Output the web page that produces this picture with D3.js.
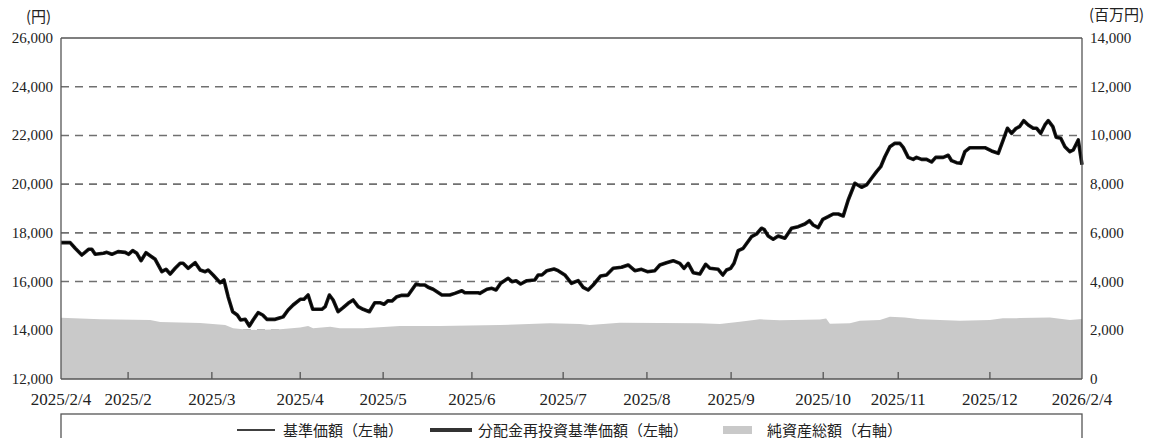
<!DOCTYPE html>
<html><head><meta charset="utf-8">
<script src="https://cdn.jsdelivr.net/npm/d3@7/dist/d3.min.js"></script>
<style>
html,body{margin:0;padding:0;background:#fff;}
svg{display:block;}
.num{font-family:"Liberation Serif","Noto Sans CJK JP",serif;fill:#222;}
.jp{font-family:"Noto Sans CJK JP","Liberation Serif",sans-serif;fill:#222;}
</style></head>
<body>
<svg id="chart" width="1150" height="438"></svg>
<script>
// trading-day index (0 = 2025/2/4, 245 = 2026/2/4)
const navDay = [0,2.2,3.4,5.0,6.6,7.4,8.2,10.2,11.0,12.2,13.7,15.4,16.2,17.2,18.2,19.2,20.4,21.4,22.6,24.2,25.2,26.2,27.4,28.6,29.3,30.5,32.2,33.4,34.6,35.3,36.5,38.2,39.1,40.1,41.2,42.3,43.1,44.2,45.2,46.1,47.3,48.4,49.4,51.4,52.6,53.3,54.5,55.7,57.4,58.3,59.3,60.4,62.6,63.4,64.4,65.3,66.5,67.7,68.9,70.1,71.3,72.5,74.0,75.3,76.5,77.5,78.5,79.4,80.6,81.8,83.3,85.2,86.1,87.3,88.1,89.3,91.4,93.3,94.5,96.2,96.9,100.1,100.5,102.2,103.4,104.4,105.5,107.3,108.2,109.2,110.3,111.8,113.7,114.5,115.4,116.6,118.3,119.3,120.9,122.5,124.1,125.3,126.5,127.7,129.5,130.9,132.5,134.5,136.1,137.7,139.3,140.7,142.5,143.7,145.3,146.9,148.5,149.5,150.5,151.7,153.3,154.7,155.7,157.7,158.8,159.7,160.7,161.5,162.5,163.7,165.7,166.9,168.1,168.7,169.7,170.9,172.1,173.7,175.3,176.9,178.5,179.6,180.5,181.7,182.8,184.1,185.3,186.5,187.7,188.9,190.5,192.1,193.3,194.5,195.7,196.7,197.7,198.9,200.1,201.3,202.1,203.3,204.5,205.3,206.5,207.7,208.9,209.9,211.7,212.9,213.7,214.9,215.9,216.9,218.1,221.7,223.3,224.9,226.1,227.1,228.1,229.2,230.0,231.0,232.1,233.3,234.1,235.1,236.1,236.9,238.0,238.8,239.9,240.9,242.1,242.9,244.1,245];
const navValue = [17597,17597,17366,17091,17325,17325,17120,17161,17200,17120,17228,17200,17120,17270,17160,16857,17186,17063,16915,16406,16504,16311,16545,16750,16750,16545,16775,16476,16406,16476,16270,15954,16065,15380,14763,14628,14422,14450,14176,14422,14722,14628,14450,14450,14517,14550,14833,15038,15272,15272,15449,14862,14862,14970,15449,15244,14763,14928,15108,15244,14970,14862,14763,15133,15133,15067,15215,15200,15380,15435,15435,15900,15860,15860,15765,15683,15449,15449,15517,15625,15543,15543,15517,15683,15724,15654,15929,16135,15997,16036,15900,16036,16065,16270,16270,16447,16516,16447,16270,15929,16036,15765,15654,15860,16230,16270,16545,16586,16681,16447,16504,16406,16447,16681,16775,16857,16750,16545,16750,16365,16311,16709,16545,16504,16270,16476,16545,16750,17268,17366,17843,17954,18188,18146,17872,17736,17872,17777,18188,18254,18365,18500,18323,18212,18557,18664,18775,18775,18693,19350,20036,19871,19966,20241,20511,20716,21127,21538,21675,21675,21510,21101,21018,21101,21018,21018,20910,21101,21101,21185,20963,20881,20854,21333,21497,21497,21362,21267,21813,22294,22088,22294,22360,22606,22430,22294,22294,22088,22430,22606,22360,21924,21883,21538,21333,21402,21813,20800];
// 分配金再投資基準価額 (no distributions: same as 基準価額)
const reinvestValue = navValue.slice();

const aumDay = [0,9.4,21.4,23.8,33.4,39.4,41.3,45.4,52.6,57.4,59.3,60.5,64.6,66.9,72.5,81.3,90.9,105.3,117.3,124.5,126.9,134.1,143.7,153.3,158.1,162.9,167.7,172.5,182.1,183.6,184.5,189.3,191.7,196.5,198.9,202.5,206.1,215.7,222.9,226.0,230.1,237.3,242.1,245];
const aumValue = [2510,2455,2420,2340,2300,2217,2082,2012,2040,2110,2176,2082,2147,2082,2082,2176,2176,2217,2287,2260,2217,2312,2300,2287,2260,2353,2451,2410,2440,2480,2270,2287,2394,2422,2558,2530,2451,2394,2422,2492,2500,2530,2422,2463];

const leftTicks = [12000,14000,16000,18000,20000,22000,24000,26000];
const rightTicks = [0,2000,4000,6000,8000,10000,12000,14000];
const xTickDay = [0,16.1,36.2,57.4,77.3,98.6,120.5,140.6,160.8,182.9,200.9,222.9,245];
const xTickLabel = ["2025/2/4","2025/2","2025/3","2025/4","2025/5","2025/6","2025/7","2025/8","2025/9","2025/10","2025/11","2025/12","2026/2/4"];
const legendLabels = ["基準価額（左軸）","分配金再投資基準価額（左軸）","純資産総額（右軸）"];

const svg = d3.select("#chart");
const L = 61, R = 1082, T = 38, B = 379;
const x = d3.scaleLinear().domain([0,245]).range([L,R]);
const yL = d3.scaleLinear().domain([12000,26000]).range([B,T]);
const yR = d3.scaleLinear().domain([0,14000]).range([B,T]);
const fmt = d3.format(",");

// grid
svg.append("g").selectAll("line").data(leftTicks.filter(v=>v>12000 && v<26000)).join("line")
  .attr("x1",L).attr("x2",R).attr("y1",d=>yL(d)).attr("y2",d=>yL(d))
  .attr("stroke","#707070").attr("stroke-width",1.6).attr("stroke-dasharray","8,6");

// area
const aumData = aumDay.map((d,i)=>({d, v:aumValue[i]}));
svg.append("path").datum(aumData)
  .attr("d", d3.area().x(p=>x(p.d)).y0(yR(0)).y1(p=>yR(p.v)))
  .attr("fill","#c9c9c9");

// lines
const navData = navDay.map((d,i)=>({d, v:navValue[i]}));
const reData = navDay.map((d,i)=>({d, v:reinvestValue[i]}));
const lineGen = d3.line().x(p=>x(p.d)).y(p=>yL(p.v));
svg.append("path").datum(reData).attr("d",lineGen).attr("fill","none")
  .attr("stroke","#1a1a1a").attr("stroke-width",3.6).attr("stroke-linejoin","round");
svg.append("path").datum(navData).attr("d",lineGen).attr("fill","none")
  .attr("stroke","#000").attr("stroke-width",1.4).attr("stroke-linejoin","round");

// frame
svg.append("line").attr("x1",L).attr("x2",R).attr("y1",T).attr("y2",T).attr("stroke","#555").attr("stroke-width",1.3);
svg.append("line").attr("x1",L).attr("x2",R).attr("y1",B).attr("y2",B).attr("stroke","#555").attr("stroke-width",1.3);
svg.append("line").attr("x1",L).attr("x2",L).attr("y1",T).attr("y2",B).attr("stroke","#555").attr("stroke-width",1.3);
svg.append("line").attr("x1",R).attr("x2",R).attr("y1",T).attr("y2",B).attr("stroke","#555").attr("stroke-width",1.3);

// x ticks
svg.append("g").selectAll("line").data(xTickDay.slice(1,-1)).join("line")
  .attr("x1",d=>x(d)).attr("x2",d=>x(d)).attr("y1",B).attr("y2",B-7)
  .attr("stroke","#555").attr("stroke-width",1.3);
svg.append("g").selectAll("text").data(xTickDay).join("text")
  .attr("class","num").attr("x",d=>x(d)).attr("y",405)
  .attr("text-anchor","middle").attr("font-size",17)
  .text((d,i)=>xTickLabel[i]);

// left axis labels
svg.append("g").selectAll("text").data(leftTicks).join("text")
  .attr("class","num").attr("x",53).attr("y",d=>yL(d)+5)
  .attr("text-anchor","end").attr("font-size",15).text(d=>fmt(d));
// right axis labels
svg.append("g").selectAll("text").data(rightTicks).join("text")
  .attr("class","num").attr("x",1090).attr("y",d=>yR(d)+5)
  .attr("text-anchor","start").attr("font-size",15).text(d=>fmt(d));

svg.append("text").attr("class","jp").attr("x",26).attr("y",22).attr("font-size",15).text("(円)");
svg.append("text").attr("class","jp").attr("x",1089).attr("y",20).attr("font-size",15).text("(百万円)");

// legend
svg.append("rect").attr("x",L).attr("y",414).attr("width",R-L).attr("height",40)
  .attr("fill","#fff").attr("stroke","#555").attr("stroke-width",1.3);
const ly = 430;
svg.append("line").attr("x1",237).attr("x2",275).attr("y1",ly).attr("y2",ly).attr("stroke","#000").attr("stroke-width",1.6);
svg.append("text").attr("class","jp").attr("x",283).attr("y",ly+5.5).attr("font-size",15).text(legendLabels[0]);
svg.append("line").attr("x1",430).attr("x2",472).attr("y1",ly).attr("y2",ly).attr("stroke","#333").attr("stroke-width",4);
svg.append("text").attr("class","jp").attr("x",478).attr("y",ly+5.5).attr("font-size",15).text(legendLabels[1]);
svg.append("rect").attr("x",723).attr("y",ly-4).attr("width",29).attr("height",8).attr("fill","#c9c9c9");
svg.append("text").attr("class","jp").attr("x",767).attr("y",ly+5.5).attr("font-size",15).text(legendLabels[2]);
</script>
</body></html>
